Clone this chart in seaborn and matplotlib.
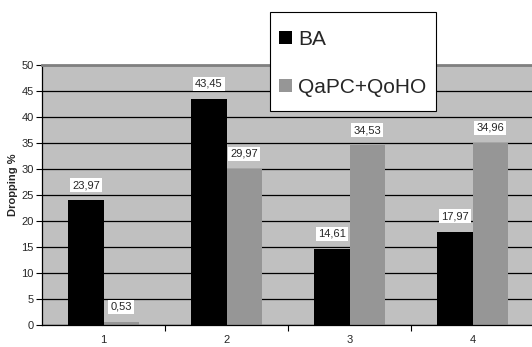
import matplotlib
matplotlib.use("Agg")
import matplotlib.pyplot as plt
import seaborn as sns
import pandas as pd
from matplotlib.patches import Patch, Rectangle
from matplotlib.ticker import FixedLocator

categories = ["1", "2", "3", "4"]
series_names = ["BA", "QaPC+QoHO"]
ba_values = [23.97, 43.45, 14.61, 17.97]
qa_values = [0.53, 29.97, 34.53, 34.96]
y_ticks = [0, 5, 10, 15, 20, 25, 30, 35, 40, 45, 50]
colors = ["#000000", "#969696"]

df = pd.DataFrame({
    "cat": categories * 2,
    "series": [series_names[0]] * 4 + [series_names[1]] * 4,
    "value": ba_values + qa_values,
})

sns.set_style("white")
plt.rcParams["font.family"] = ["Liberation Sans", "DejaVu Sans"]

W, H = 532, 347
fig = plt.figure(figsize=(W / 100, H / 100), dpi=100)
ax = fig.add_axes([42 / W, 1 - 325 / H, 492 / W, 260 / H])
ax.set_facecolor("#c0c0c0")

sns.barplot(data=df, x="cat", y="value", hue="series", order=categories,
            hue_order=series_names, palette=colors, width=0.57, gap=0,
            edgecolor="none", linewidth=0, saturation=1, ax=ax, legend=False)

ax.set_ylim(0, 50)
ax.set_xlim(-0.5, 3.5)
ax.set_yticks(y_ticks)
ax.set_yticklabels([str(t) for t in y_ticks], fontsize=8)
ax.yaxis.grid(True, color="black", linewidth=0.9)
ax.set_axisbelow(True)
ax.tick_params(axis="y", direction="out", length=4, width=0.8, color="black", pad=2, left=True)
ax.tick_params(axis="x", which="major", length=0, labelsize=8, pad=7)
ax.xaxis.set_minor_locator(FixedLocator([0.5, 1.5, 2.5, 3.5]))
ax.tick_params(axis="x", which="minor", direction="out", length=4, width=0.8, color="black", bottom=True)
ax.set_xlabel("")
ax.set_ylabel("Dropping %", fontsize=8, fontweight="bold")
ax.yaxis.set_label_coords(-24 / 492, (325 - 185) / 260)

for s in ["left", "bottom"]:
    ax.spines[s].set_color("black")
    ax.spines[s].set_linewidth(0.9)
ax.spines["top"].set_color("#808080")
ax.spines["top"].set_linewidth(2)
ax.spines["right"].set_visible(False)

for container in ax.containers:
    for bar in container:
        h = bar.get_height()
        ax.annotate(f"{h:.2f}".replace(".", ","),
                    xy=(bar.get_x() + bar.get_width() / 2, h),
                    xytext=(0, 11), textcoords="offset points",
                    ha="center", va="center", fontsize=8,
                    bbox=dict(facecolor="white", edgecolor="none", pad=1.5))

# legend frame (figure pixel box 270..436 x 12..111)
frame = Rectangle((270 / W, 1 - 111 / H), 166 / W, 99 / H, transform=fig.transFigure,
                  facecolor="white", edgecolor="black", linewidth=0.8, zorder=5)
fig.add_artist(frame)

handles = [Patch(facecolor=c, edgecolor="none") for c in colors]
leg = fig.legend(handles, series_names, loc="center left",
                 bbox_to_anchor=(273 / W, 1 - 63.5 / H),
                 prop={"size": 15}, frameon=False,
                 handlelength=0.62, handleheight=0.62, handletextpad=0.3,
                 labelspacing=1.4, borderpad=0.3, borderaxespad=0)
leg.set_zorder(6)

fig.savefig("out.png", dpi=100)
